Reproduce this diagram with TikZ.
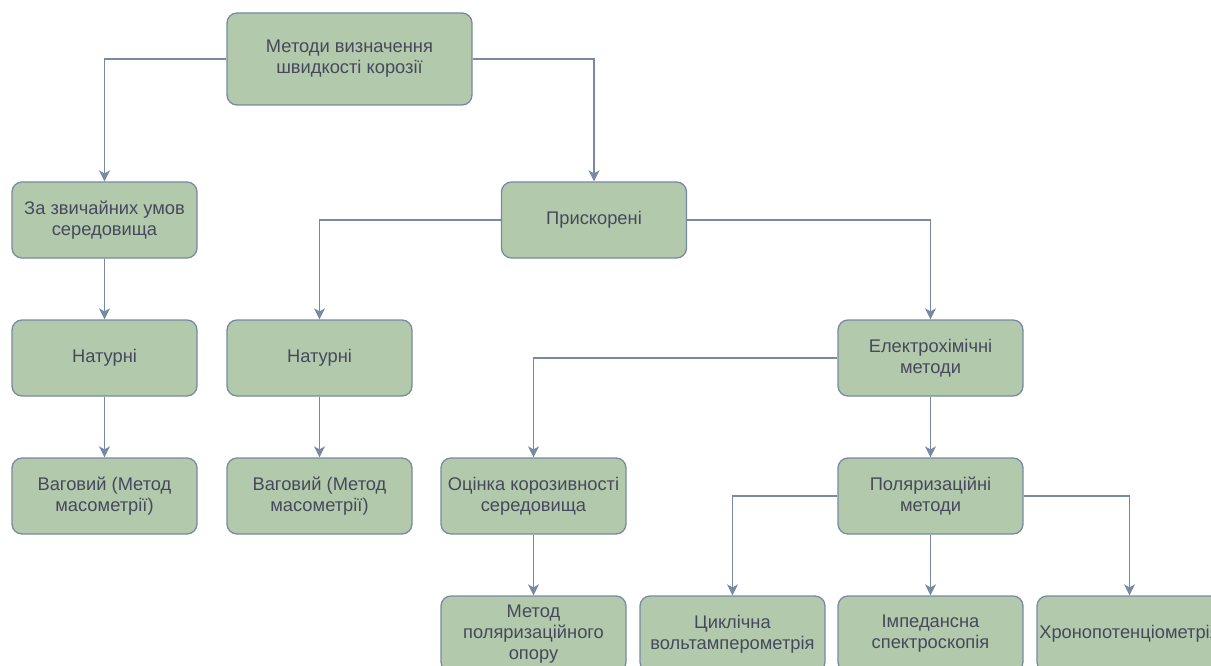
\documentclass[tikz,border=0pt]{standalone}
\usepackage{fontspec}
\setmainfont{Liberation Sans}
\usetikzlibrary{arrows.meta}
\definecolor{boxfill}{HTML}{B2C9AB}
\definecolor{boxline}{HTML}{788AA3}
\definecolor{boxtext}{HTML}{46495D}
\tikzset{
  box/.style={draw=boxline, fill=boxfill, line width=1.3pt, rounded corners=10pt,
    minimum width=185pt, minimum height=76pt, inner sep=0pt, align=center,
    text=boxtext, font=\fontsize{18.3}{21}\selectfont},
  link/.style={draw=boxline, line width=1.4pt,
    -{Stealth[length=11pt,width=11pt,inset=3pt]}}
}
\begin{document}
\begin{tikzpicture}[x=1pt,y=-1pt]
\useasboundingbox (0,0) rectangle (1211,666);
\clip (0,0) rectangle (1211,666);
\node[box, minimum width=245pt, minimum height=92pt] (top) at (349.5,59) {Методи визначення\\швидкості корозії};
\node[box] (ord) at (104.5,220) {За звичайних умов\\середовища};
\node[box] (prisk) at (594,220) {Прискорені};
\node[box] (nat1) at (104.5,358) {Натурні};
\node[box] (nat2) at (319.5,358) {Натурні};
\node[box] (elec) at (930.5,358) {Електрохімічні\\методи};
\node[box] (vag1) at (104.5,496) {Ваговий (Метод\\масометрії)};
\node[box] (vag2) at (319.5,496) {Ваговий (Метод\\масометрії)};
\node[box] (ocin) at (533.5,496) {Оцінка корозивності\\середовища};
\node[box] (pol) at (930.5,496) {Поляризаційні\\методи};
\node[box] (metod) at (533.5,634) {Метод\\поляризаційного\\опору};
\node[box] (cycl) at (732.5,634) {Циклічна\\вольтамперометрія};
\node[box] (imp) at (930.5,634) {Імпедансна\\спектроскопія};
\node[box] (chrono) at (1129.5,634) {Хронопотенціометрія};

\draw[link] (top.west) -| (ord.north);
\draw[link] (top.east) -| (prisk.north);
\draw[link] (ord) -- (nat1);
\draw[link] (nat1) -- (vag1);
\draw[link] (prisk.west) -| (nat2.north);
\draw[link] (prisk.east) -| (elec.north);
\draw[link] (nat2) -- (vag2);
\draw[link] (elec.west) -| (ocin.north);
\draw[link] (elec) -- (pol);
\draw[link] (ocin) -- (metod);
\draw[link] (pol.west) -| (cycl.north);
\draw[link] (pol) -- (imp);
\draw[link] (pol.east) -| (chrono.north);
\end{tikzpicture}
\end{document}
